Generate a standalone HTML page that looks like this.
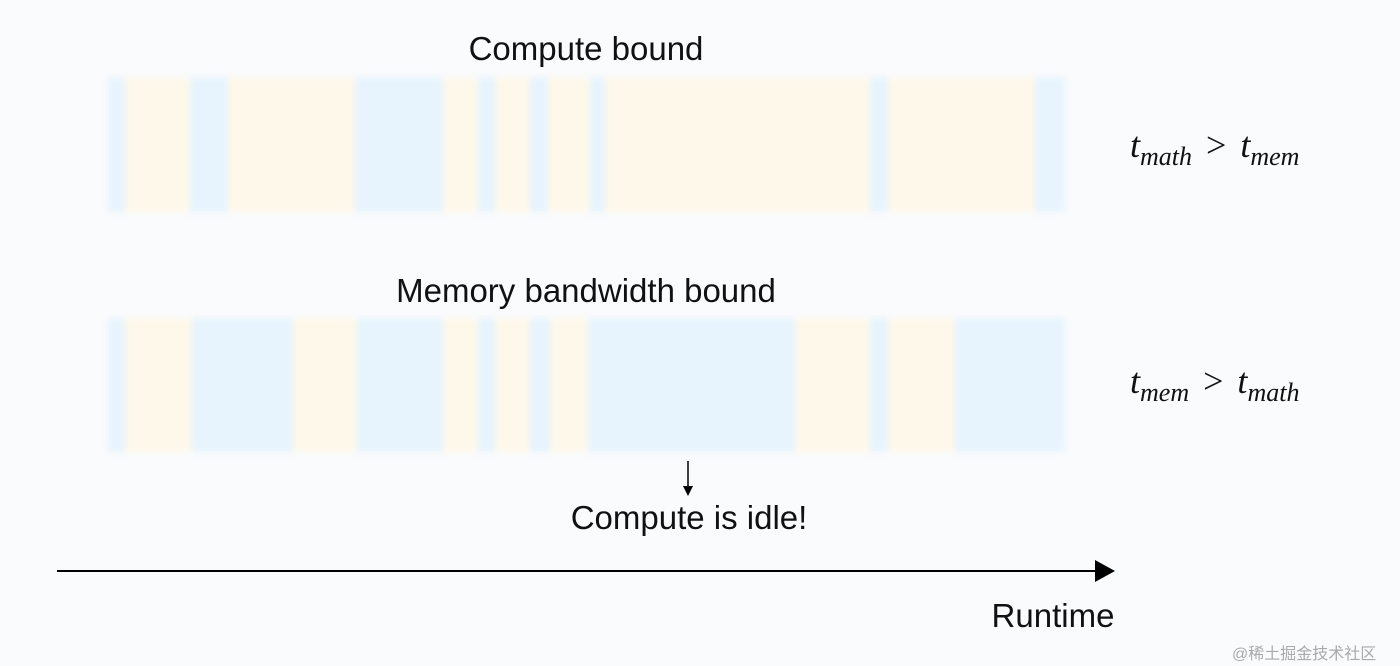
<!DOCTYPE html>
<html><head><meta charset="utf-8"><style>
body{margin:0;width:1400px;height:666px;background:#fafbfd;position:relative;overflow:hidden;font-family:"Liberation Sans",sans-serif;color:#111}
.bar{position:absolute;left:108px;width:957px;filter:blur(3px)}
.bar div{position:absolute;top:0;bottom:0}
.y{background:#fdf8ea}.b{background:#e7f4fd}
.t{position:absolute;font-size:33px;white-space:nowrap;text-align:center}
.m{position:absolute;font-family:"Liberation Serif",serif;font-style:italic;font-size:36px;white-space:nowrap}
.m sub{font-size:26px;vertical-align:-8px}
.m span{font-style:normal;margin:0 14px}
</style></head><body>
<div class="t" style="left:436px;width:300px;top:30px">Compute bound</div>
<div class="t" style="left:336px;width:500px;top:272px">Memory bandwidth bound</div>
<div class="t" style="left:539px;width:300px;top:499px">Compute is idle!</div>
<div class="t" style="left:953px;width:200px;top:597px">Runtime</div>

<div class="bar" style="top:77px;height:135px">
<div class="b" style="left:0;width:17px"></div><div class="y" style="left:17px;width:65px"></div>
<div class="b" style="left:82px;width:38px"></div><div class="y" style="left:120px;width:127px"></div>
<div class="b" style="left:247px;width:88px"></div><div class="y" style="left:335px;width:35px"></div>
<div class="b" style="left:370px;width:17px"></div><div class="y" style="left:387px;width:35px"></div>
<div class="b" style="left:422px;width:18px"></div><div class="y" style="left:440px;width:42px"></div>
<div class="b" style="left:482px;width:15px"></div><div class="y" style="left:497px;width:265px"></div>
<div class="b" style="left:762px;width:18px"></div><div class="y" style="left:780px;width:147px"></div>
<div class="b" style="left:927px;width:30px"></div>
</div>
<div class="bar" style="top:318px;height:134px">
<div class="b" style="left:0;width:17px"></div><div class="y" style="left:17px;width:67px"></div>
<div class="b" style="left:84px;width:101px"></div><div class="y" style="left:185px;width:64px"></div>
<div class="b" style="left:249px;width:86px"></div><div class="y" style="left:335px;width:35px"></div>
<div class="b" style="left:370px;width:17px"></div><div class="y" style="left:387px;width:35px"></div>
<div class="b" style="left:422px;width:20px"></div><div class="y" style="left:442px;width:38px"></div>
<div class="b" style="left:480px;width:207px"></div><div class="y" style="left:687px;width:75px"></div>
<div class="b" style="left:762px;width:18px"></div><div class="y" style="left:780px;width:67px"></div>
<div class="b" style="left:847px;width:110px"></div>
</div>

<div class="m" style="left:1130px;top:124px">t<sub>math</sub><span>&gt;</span>t<sub>mem</sub></div>
<div class="m" style="left:1130px;top:360px">t<sub>mem</sub><span>&gt;</span>t<sub>math</sub></div>

<svg style="position:absolute;left:0;top:0" width="1400" height="666">
<line x1="57" y1="571" x2="1098" y2="571" stroke="#000" stroke-width="2"/>
<polygon points="1095,560 1115,571 1095,582" fill="#000"/>
<line x1="688" y1="461" x2="688" y2="490" stroke="#000" stroke-width="1.5"/>
<polygon points="683,486 688,496 693,486" fill="#000"/>
</svg>
<div style="position:absolute;left:1232px;top:640px;font-size:16px;color:#aaa;font-family:'Liberation Sans','Noto Sans CJK SC',sans-serif">@稀土掘金技术社区</div>
</body></html>
